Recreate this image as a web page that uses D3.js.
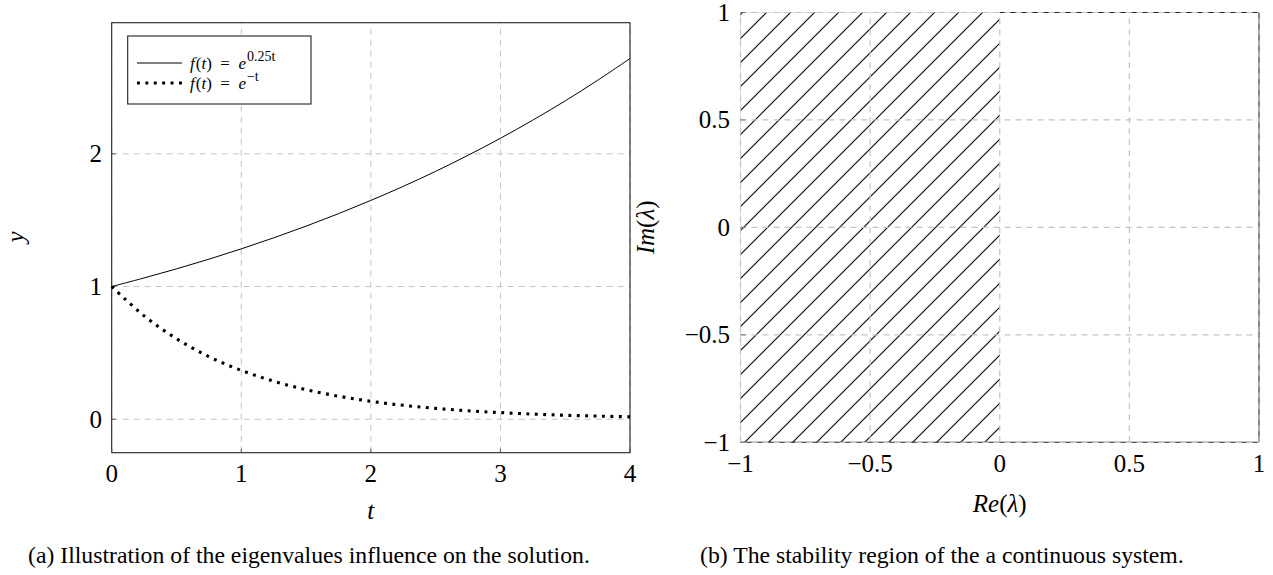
<!DOCTYPE html>
<html><head><meta charset="utf-8">
<script src="https://cdn.jsdelivr.net/npm/d3@7/dist/d3.min.js"></script>
<style>
html,body{margin:0;padding:0;background:#fff;}
svg{display:block;}
text{font-family:"Liberation Serif","Times New Roman","DejaVu Serif",serif;fill:#000;}
</style></head>
<body>
<svg id="c" width="1273" height="575"></svg>
<script>
// ---- data ----
const tValues = [0,0.25,0.5,0.75,1,1.25,1.5,1.75,2,2.25,2.5,2.75,3,3.25,3.5,3.75,4];
const growthValues = [1,1.065,1.133,1.206,1.284,1.367,1.455,1.549,1.649,1.755,1.868,1.989,2.117,2.254,2.399,2.554,2.718];
const decayValues  = [1,0.779,0.607,0.472,0.368,0.287,0.223,0.174,0.135,0.105,0.082,0.064,0.050,0.039,0.030,0.024,0.018];
const leftXTicks = [0,1,2,3,4];
const leftYTicks = [0,1,2];
const rightXTicks = [-1,-0.5,0,0.5,1];
const rightYTicks = [-1,-0.5,0,0.5,1];
const stableRegion = {re:[-1,0], im:[-1,1]};
const legendSup = ["0.25t", "\u2212t"];
const captionA = "(a) Illustration of the eigenvalues influence on the solution.";
const captionB = "(b) The stability region of the a continuous system.";

const svg = d3.select("#c");
const fmt = v => (v<0 ? "\u2212" : "") + String(Math.abs(v));
const GRID = "#c4c4c4", DASH = "6,5";
const TICKFS = 25, LABFS = 25;

// ---- left plot ----
const xL = d3.scaleLinear().domain([0,4]).range([111.7,630]);
const yL = d3.scaleLinear().domain([-0.252,2.988]).range([452.7,22.7]);
const gL = svg.append("g");
gL.selectAll(".gx").data(leftXTicks).enter().append("line")
  .attr("x1",d=>xL(d)).attr("x2",d=>xL(d)).attr("y1",yL.range()[0]).attr("y2",yL.range()[1])
  .attr("stroke",GRID).attr("stroke-dasharray",DASH);
gL.selectAll(".gy").data(leftYTicks).enter().append("line")
  .attr("y1",d=>yL(d)).attr("y2",d=>yL(d)).attr("x1",xL.range()[0]).attr("x2",xL.range()[1])
  .attr("stroke",GRID).attr("stroke-dasharray",DASH);
gL.append("rect").attr("x",xL(0)).attr("y",yL.range()[1]).attr("width",xL(4)-xL(0))
  .attr("height",yL.range()[0]-yL.range()[1]).attr("fill","none").attr("stroke","#222").attr("stroke-width",1.1);
gL.selectAll(".tk").data(leftYTicks).enter().append("line")
  .attr("x1",xL(0)).attr("x2",xL(0)+4).attr("y1",d=>yL(d)).attr("y2",d=>yL(d)).attr("stroke","#555");
gL.selectAll(".tkx").data(leftXTicks).enter().append("line")
  .attr("y1",yL.range()[0]).attr("y2",yL.range()[0]-4).attr("x1",d=>xL(d)).attr("x2",d=>xL(d)).attr("stroke","#555");
gL.selectAll(".xl").data(leftXTicks).enter().append("text")
  .attr("x",d=>xL(d)).attr("y",481.5).attr("text-anchor","middle").attr("font-size",TICKFS).text(fmt);
gL.selectAll(".yl").data(leftYTicks).enter().append("text")
  .attr("x",102).attr("y",d=>yL(d)+8.5).attr("text-anchor","end").attr("font-size",TICKFS).text(fmt);
gL.append("text").attr("x",xL(2)).attr("y",519).attr("text-anchor","middle")
  .attr("font-size",LABFS).attr("font-style","italic").text("t");
gL.append("text").attr("transform","translate(24,237) rotate(-90)").attr("text-anchor","middle")
  .attr("font-size",LABFS).attr("font-style","italic").text("y");
const pts1 = tValues.map((t,i)=>[t,growthValues[i]]);
const pts2 = tValues.map((t,i)=>[t,decayValues[i]]);
const line = d3.line().x(d=>xL(d[0])).y(d=>yL(d[1])).curve(d3.curveCatmullRom);
gL.append("path").attr("d",line(pts1)).attr("fill","none").attr("stroke","#000").attr("stroke-width",1);
gL.append("path").attr("d",line(pts2)).attr("fill","none").attr("stroke","#000")
  .attr("stroke-width",3.1).attr("stroke-dasharray","2.9,5.5");
// legend
const lg = gL.append("g");
lg.append("rect").attr("x",127.7).attr("y",36).attr("width",183.3).attr("height",68)
  .attr("fill","#fff").attr("stroke","#222").attr("stroke-width",1.1);
lg.append("line").attr("x1",137).attr("x2",182).attr("y1",63).attr("y2",63).attr("stroke","#000");
lg.append("line").attr("x1",137).attr("x2",184).attr("y1",83).attr("y2",83).attr("stroke","#000")
  .attr("stroke-width",3.1).attr("stroke-dasharray","2.9,5.5");
function legText(y, sup){
  const t = lg.append("text").attr("x",190).attr("y",y).attr("font-size",17);
  t.append("tspan").attr("font-style","italic").text("f");
  t.append("tspan").attr("dx",1).text("(");
  t.append("tspan").attr("font-style","italic").text("t");
  t.append("tspan").text(")\u2002=\u2002");
  t.append("tspan").attr("font-style","italic").text("e");
  t.append("tspan").attr("font-size",14).attr("dy",-8).attr("dx",1).text(sup);
}
legText(68.5, legendSup[0]);
legText(88.5, legendSup[1]);

// ---- right plot ----
const xR = d3.scaleLinear().domain([-1,1]).range([740.5,1259]);
const yR = d3.scaleLinear().domain([-1,1]).range([442.3,12.5]);
const gR = svg.append("g");
const defs = svg.append("defs");
const pat = defs.append("pattern").attr("id","hatch").attr("patternUnits","userSpaceOnUse")
  .attr("width",24).attr("height",24).attr("x",11).attr("y",0);
[[0,24,24,0],[-12,12,12,-12],[12,36,36,12]].forEach(s=>{
  pat.append("line").attr("x1",s[0]).attr("y1",s[1]).attr("x2",s[2]).attr("y2",s[3])
    .attr("stroke","#000").attr("stroke-width",1.1);
});
gR.append("line").attr("x1",xR(-1)).attr("x2",xR(1)).attr("y1",yR(-1)).attr("y2",yR(-1)).attr("stroke","#222").attr("stroke-width",1.1);
gR.append("line").attr("x1",xR(1)).attr("x2",xR(1)).attr("y1",yR(-1)).attr("y2",yR(1)).attr("stroke","#222").attr("stroke-width",1.1);
gR.append("line").attr("x1",xR(0)).attr("x2",xR(1)).attr("y1",yR(1)).attr("y2",yR(1)).attr("stroke","#222").attr("stroke-width",1.1);
gR.append("line").attr("x1",xR(-1)).attr("x2",xR(0)).attr("y1",yR(1)).attr("y2",yR(1)).attr("stroke","#e2e2e2").attr("stroke-width",1.1);
gR.append("line").attr("x1",xR(-1)).attr("x2",xR(-1)).attr("y1",yR(-1)).attr("y2",yR(1)).attr("stroke","#e2e2e2").attr("stroke-width",1.1);
gR.append("rect").attr("x",xR(stableRegion.re[0])).attr("y",yR(stableRegion.im[1]))
  .attr("width",xR(stableRegion.re[1])-xR(stableRegion.re[0]))
  .attr("height",yR(stableRegion.im[0])-yR(stableRegion.im[1])).attr("fill","url(#hatch)");
gR.selectAll(".gx").data(rightXTicks).enter().append("line")
  .attr("x1",d=>xR(d)).attr("x2",d=>xR(d)).attr("y1",yR(-1)).attr("y2",yR(1))
  .attr("stroke",GRID).attr("stroke-width",1.2).attr("stroke-dasharray",DASH);
gR.selectAll(".gy").data(rightYTicks).enter().append("line")
  .attr("y1",d=>yR(d)).attr("y2",d=>yR(d)).attr("x1",xR(-1)).attr("x2",xR(1))
  .attr("stroke",GRID).attr("stroke-width",1.2).attr("stroke-dasharray",DASH);
gR.selectAll(".tk").data(rightYTicks).enter().append("line")
  .attr("x1",xR(-1)).attr("x2",xR(-1)+5).attr("y1",d=>yR(d)).attr("y2",d=>yR(d)).attr("stroke","#777");
gR.selectAll(".xl").data(rightXTicks).enter().append("text")
  .attr("x",d=>xR(d)).attr("y",471.5).attr("text-anchor","middle").attr("font-size",TICKFS).text(fmt);
gR.selectAll(".yl").data(rightYTicks).enter().append("text")
  .attr("x",730).attr("y",d=>yR(d)+8.5).attr("text-anchor","end").attr("font-size",TICKFS).text(fmt);
const reT = gR.append("text").attr("x",xR(0)).attr("y",512).attr("text-anchor","middle").attr("font-size",LABFS);
reT.append("tspan").attr("font-style","italic").text("Re");
reT.append("tspan").text("(");
reT.append("tspan").attr("font-style","italic").text("\u03bb");
reT.append("tspan").text(")");
const imT = gR.append("text").attr("transform",`translate(654,${yR(0)}) rotate(-90)`).attr("text-anchor","middle").attr("font-size",LABFS);
imT.append("tspan").attr("font-style","italic").text("Im");
imT.append("tspan").text("(");
imT.append("tspan").attr("font-style","italic").text("\u03bb");
imT.append("tspan").text(")");

// captions: one common size, chosen so caption (a) spans the width seen in the reference
const capA = svg.append("text").attr("x",28).attr("y",563).attr("font-size",20).text(captionA);
const capFS = 20 * 562 / capA.node().getComputedTextLength();
capA.attr("font-size",capFS);
svg.append("text").attr("x",700).attr("y",563).attr("font-size",capFS).text(captionB);
</script>
</body></html>
